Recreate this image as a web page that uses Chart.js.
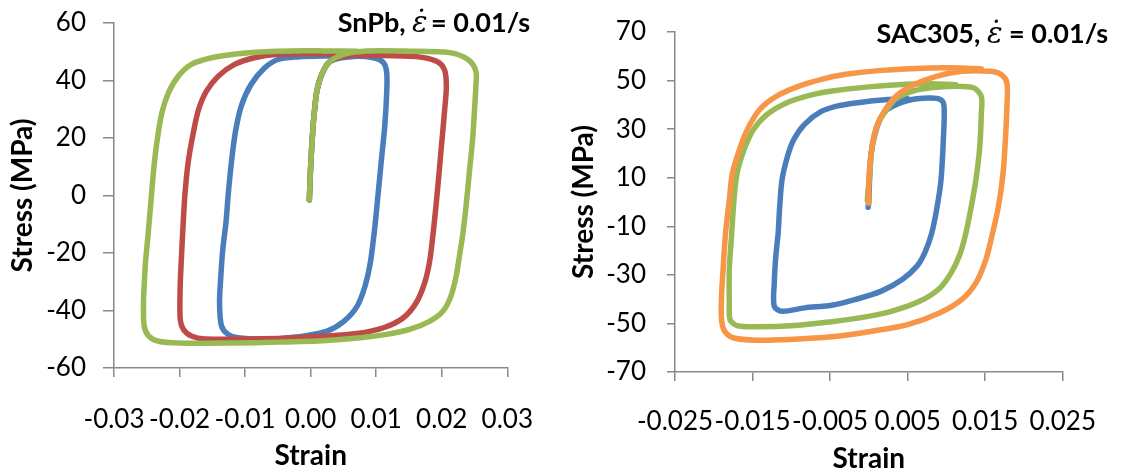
<!DOCTYPE html>
<html>
<head>
<meta charset="utf-8">
<script src="https://cdn.jsdelivr.net/npm/chart.js@4.4.1/dist/chart.umd.min.js"></script>
<style>
  html, body { margin: 0; padding: 0; background: #ffffff; }
  #wrap { position: relative; width: 1121px; height: 473px; overflow: hidden; }
  canvas { position: absolute; top: 0; }
  #snpb { left: 0; }
  #sac { left: 560px; }
</style>
</head>
<body>
<div id="wrap">
  <canvas id="snpb" width="560" height="473"></canvas>
  <canvas id="sac" width="561" height="473"></canvas>
</div>
<script>
// ---- SnPb hysteresis loops (strain, stress in MPa) ----
const snpbBlueStrain = [-0.0002, 0.0000, 0.0003, 0.0006, 0.0010, 0.0018, 0.0030, 0.0061, 0.0096, 0.0111, 0.0116, 0.0116, 0.0113, 0.0108, 0.0103, 0.0098, 0.0091, 0.0083, 0.0071, 0.0051, 0.0025, -0.0010, -0.0050, -0.0070, -0.0111, -0.0126, -0.0136, -0.0139, -0.0137, -0.0134, -0.0129, -0.0126, -0.0121, -0.0115, -0.0106, -0.0091, -0.0070, -0.0050, -0.0020, 0.0020, 0.0050];
const snpbBlueStress = [-1.5, 10.1, 21.8, 29.9, 36.9, 42.7, 46.7, 48.3, 47.9, 46.2, 42.7, 35.7, 24.1, 12.5, 0.8, -10.8, -23.4, -31.5, -38.5, -43.7, -47.2, -48.9, -49.9, -50.1, -49.5, -48.3, -45.4, -37.3, -28.0, -18.7, -9.0, -0.3, 11.3, 21.8, 31.0, 38.6, 44.4, 47.3, 48.2, 48.5, 48.4];

const snpbRedStrain = [-0.0002, 0.0000, 0.0003, 0.0006, 0.0010, 0.0018, 0.0030, 0.0055, 0.0101, 0.0161, 0.0192, 0.0204, 0.0207, 0.0204, 0.0199, 0.0194, 0.0189, 0.0182, 0.0174, 0.0161, 0.0141, 0.0111, 0.0071, 0.0025, -0.0050, -0.0161, -0.0182, -0.0194, -0.0199, -0.0199, -0.0197, -0.0195, -0.0192, -0.0187, -0.0179, -0.0171, -0.0159, -0.0141, -0.0116, -0.0086, -0.0050, 0.0000, 0.0050];
const snpbRedStress = [-1.5, 10.1, 21.8, 29.9, 36.9, 42.7, 46.7, 48.6, 48.7, 48.3, 46.7, 43.8, 38.0, 28.7, 15.9, 3.1, -8.5, -22.2, -30.3, -37.3, -42.6, -46.0, -48.0, -48.9, -49.7, -49.9, -48.9, -46.6, -43.1, -31.5, -21.0, -12.0, -0.3, 11.3, 21.8, 29.9, 36.3, 41.5, 45.6, 47.9, 49.1, 49.3, 49.2];

const snpbGreenStrain = [-0.0002, 0.0000, 0.0003, 0.0006, 0.0010, 0.0018, 0.0030, 0.0050, 0.0081, 0.0151, 0.0212, 0.0240, 0.0252, 0.0252, 0.0250, 0.0247, 0.0242, 0.0237, 0.0232, 0.0227, 0.0222, 0.0214, 0.0202, 0.0182, 0.0151, 0.0116, 0.0076, 0.0025, -0.0050, -0.0121, -0.0202, -0.0232, -0.0247, -0.0254, -0.0255, -0.0254, -0.0252, -0.0248, -0.0243, -0.0239, -0.0234, -0.0227, -0.0217, -0.0202, -0.0182, -0.0151, -0.0111, -0.0070, -0.0030, 0.0020, 0.0070];
const snpbGreenStress = [-1.5, 10.1, 21.8, 29.9, 36.9, 42.7, 46.7, 49.1, 50.2, 50.2, 49.7, 47.3, 43.3, 38.0, 29.9, 19.4, 7.8, -3.8, -13.6, -21.0, -28.0, -35.0, -40.2, -43.7, -46.6, -48.3, -49.5, -50.4, -51.0, -51.3, -51.3, -50.7, -48.9, -45.4, -37.3, -31.5, -23.4, -13.6, -0.3, 10.1, 19.4, 28.7, 35.7, 41.5, 45.6, 47.9, 49.3, 50.0, 50.3, 50.3, 50.2];

// ---- SAC305 hysteresis loops ----
const sacBlueStrain = [-0.0001, 0.0000, 0.0001, 0.0003, 0.0008, 0.0014, 0.0023, 0.0050, 0.0078, 0.0093, 0.0097, 0.0096, 0.0093, 0.0088, 0.0081, 0.0072, 0.0062, 0.0043, 0.0016, -0.0017, -0.0048, -0.0083, -0.0112, -0.0122, -0.0122, -0.0120, -0.0117, -0.0115, -0.0112, -0.0105, -0.0097, -0.0083, -0.0062, -0.0040, -0.0012, 0.0021, 0.0050];
const sacBlueStress = [-2.2, 0.8, 10.4, 20.1, 28.3, 33.8, 38.0, 41.8, 42.8, 42.1, 39.3, 25.6, 9.1, -1.9, -12.9, -20.9, -26.4, -31.9, -36.7, -40.1, -42.5, -43.6, -45.0, -42.9, -33.3, -22.3, -12.9, -1.9, 9.1, 18.7, 25.6, 32.0, 37.2, 39.6, 41.0, 42.1, 42.5];

const sacGreenStrain = [-0.0002, -0.0001, 0.0001, 0.0003, 0.0008, 0.0014, 0.0023, 0.0035, 0.0058, 0.0091, 0.0120, 0.0136, 0.0145, 0.0145, 0.0143, 0.0138, 0.0132, 0.0125, 0.0117, 0.0106, 0.0091, 0.0066, 0.0029, -0.0012, -0.0048, -0.0095, -0.0145, -0.0170, -0.0179, -0.0180, -0.0180, -0.0177, -0.0174, -0.0170, -0.0161, -0.0149, -0.0132, -0.0107, -0.0074, -0.0045, -0.0004, 0.0037, 0.0078, 0.0112];
const sacGreenStress = [0.5, 5.0, 10.4, 20.1, 28.3, 33.8, 38.0, 42.5, 45.8, 47.3, 47.6, 46.9, 43.4, 36.6, 22.8, 9.1, -1.9, -12.9, -21.8, -29.2, -35.6, -40.8, -45.0, -47.7, -49.3, -50.9, -51.4, -50.9, -48.4, -41.5, -27.8, -13.5, 0.8, 11.8, 21.5, 29.7, 35.9, 40.7, 44.1, 45.8, 47.3, 48.3, 48.7, 48.3];

const sacOrangeStrain = [0.0000, 0.0000, 0.0004, 0.0010, 0.0021, 0.0037, 0.0058, 0.0087, 0.0120, 0.0157, 0.0171, 0.0178, 0.0178, 0.0176, 0.0173, 0.0167, 0.0159, 0.0151, 0.0138, 0.0120, 0.0091, 0.0050, 0.0004, -0.0048, -0.0103, -0.0145, -0.0174, -0.0186, -0.0190, -0.0190, -0.0188, -0.0185, -0.0180, -0.0176, -0.0167, -0.0157, -0.0141, -0.0120, -0.0091, -0.0060, -0.0030, 0.0016, 0.0078, 0.0120, 0.0145];
const sacOrangeStress = [-0.5, 10.4, 22.8, 31.1, 38.0, 44.1, 48.3, 51.7, 53.8, 53.8, 52.4, 49.0, 39.3, 25.6, 11.8, -1.9, -13.5, -23.6, -33.3, -40.1, -45.7, -50.5, -53.2, -55.5, -56.6, -56.9, -56.0, -53.2, -48.4, -38.8, -27.8, -13.5, 0.8, 11.8, 21.5, 29.7, 38.0, 43.4, 47.6, 50.6, 52.6, 54.2, 55.2, 55.2, 54.8];

// ---- axis ticks ----
const snpbStrainTicks = [-0.03, -0.02, -0.01, 0.00, 0.01, 0.02, 0.03];
const snpbStressTicks = [-60, -40, -20, 0, 20, 40, 60];
const sacStrainTicks = [-0.025, -0.015, -0.005, 0.005, 0.015, 0.025];
const sacStressTicks = [-70, -50, -30, -10, 10, 30, 50, 70];

const BLUE = '#4a7ebb', RED = '#be4b48', GREEN = '#98b954', ORANGE = '#f79646';
const AXIS_GREY = '#898989';

function toPoints(xs, ys) {
  return xs.map((x, i) => ({ x: x, y: ys[i] }));
}

function loop(xs, ys, color, order) {
  return {
    data: toPoints(xs, ys),
    borderColor: color,
    backgroundColor: color,
    borderWidth: 5.5,
    borderCapStyle: 'round',
    borderJoinStyle: 'round',
    pointRadius: 0,
    showLine: true,
    tension: 0.3,
    fill: false,
    order: order
  };
}

// Panel heading with the dotted strain-rate symbol, right aligned
const panelHeading = {
  id: 'panelHeading',
  afterDraw(chart, args, o) {
    const ctx = chart.ctx;
    ctx.save();
    ctx.fillStyle = '#000';
    ctx.textBaseline = 'alphabetic';
    ctx.textAlign = 'left';
    const parts = [
      { t: o.name + ', ', f: 'bold 27px Lato' },
      { t: '\u03B5\u0307', f: 'italic 29px "DejaVu Serif"' },
      { t: o.tail, f: 'bold 27px Lato' }
    ];
    let total = 0;
    parts.forEach(p => { ctx.font = p.f; p.w = ctx.measureText(p.t).width; total += p.w; });
    let x = o.right - total;
    parts.forEach(p => { ctx.font = p.f; ctx.fillText(p.t, x, o.baseline); x += p.w; });
    ctx.restore();
  }
};

function buildPanel(canvasId, cfg) {
  return new Chart(document.getElementById(canvasId), {
    type: 'scatter',
    data: { datasets: cfg.datasets },
    plugins: [panelHeading],
    options: {
      responsive: false,
      animation: false,
      devicePixelRatio: 1,
      layout: { padding: cfg.padding },
      plugins: {
        legend: { display: false },
        tooltip: { enabled: false },
        panelHeading: cfg.heading
      },
      scales: {
        x: {
          type: 'linear',
          min: cfg.xMin, max: cfg.xMax,
          afterBuildTicks: s => { s.ticks = cfg.xTicks.map(v => ({ value: v })); },
          afterFit: s => { s.height = cfg.xHeight; },
          ticks: {
            callback: v => v.toFixed(cfg.xDecimals),
            font: { family: 'Lato', size: 26 },
            color: '#000',
            padding: cfg.xTickPad,
            maxRotation: 0,
            autoSkip: false
          },
          grid: { drawOnChartArea: false, drawTicks: true, tickLength: 9, color: AXIS_GREY, lineWidth: 1.5 },
          border: { display: true, color: AXIS_GREY, width: 1.5 },
          title: {
            display: true, text: 'Strain', color: '#000',
            font: { family: 'Lato', size: 28, weight: 'bold', lineHeight: 1 },
            padding: { top: 0, bottom: cfg.xTitlePad }
          }
        },
        y: {
          type: 'linear',
          min: cfg.yMin, max: cfg.yMax,
          afterBuildTicks: s => { s.ticks = cfg.yTicks.map(v => ({ value: v })); },
          afterFit: s => {
            s.width = cfg.yWidth;
            // the plot area edges are fixed by the layout padding alone
            s.paddingTop = 0;
            s.paddingBottom = 0;
          },
          ticks: {
            callback: v => String(v),
            font: { family: 'Lato', size: 26 },
            color: '#000',
            padding: cfg.yTickPad,
            autoSkip: false
          },
          grid: { drawOnChartArea: false, drawTicks: true, tickLength: cfg.yTickLen, color: AXIS_GREY, lineWidth: 1.5 },
          border: { display: true, color: AXIS_GREY, width: 1.5 },
          title: {
            display: true, text: 'Stress (MPa)', color: '#000',
            font: { family: 'Lato', size: 28, weight: 'bold', lineHeight: 1 },
            padding: { top: cfg.yTitlePad, bottom: 0 }
          }
        }
      }
    }
  });
}

buildPanel('snpb', {
  datasets: [
    loop(snpbBlueStrain, snpbBlueStress, BLUE, 2),
    loop(snpbRedStrain, snpbRedStress, RED, 1),
    loop(snpbGreenStrain, snpbGreenStress, GREEN, 0)
  ],
  padding: { left: 0, top: 23, right: 48, bottom: 0 },
  xMin: -0.03, xMax: 0.03, xTicks: snpbStrainTicks, xDecimals: 2,
  yMin: -60, yMax: 60, yTicks: snpbStressTicks,
  xHeight: 105, yWidth: 114,
  xTickPad: 27, yTickPad: 17, yTickLen: 11,
  xTitlePad: 3, yTitlePad: 9,
  heading: { name: 'SnPb', tail: '\u2009= 0.01/s', right: 530, baseline: 32 }
});

buildPanel('sac', {
  datasets: [
    loop(sacBlueStrain, sacBlueStress, BLUE, 2),
    loop(sacGreenStrain, sacGreenStress, GREEN, 1),
    loop(sacOrangeStrain, sacOrangeStress, ORANGE, 0)
  ],
  padding: { left: 0, top: 32, right: 43, bottom: 0 },
  xMin: -0.025, xMax: 0.025, xTicks: sacStrainTicks, xDecimals: 3,
  yMin: -70, yMax: 70, yTicks: sacStressTicks,
  xHeight: 101, yWidth: 115,
  xTickPad: 25, yTickPad: 21, yTickLen: 8,
  xTitlePad: 0, yTitlePad: 10,
  heading: { name: 'SAC305', tail: ' = 0.01/s', right: 548, baseline: 43 }
});
</script>
</body>
</html>
